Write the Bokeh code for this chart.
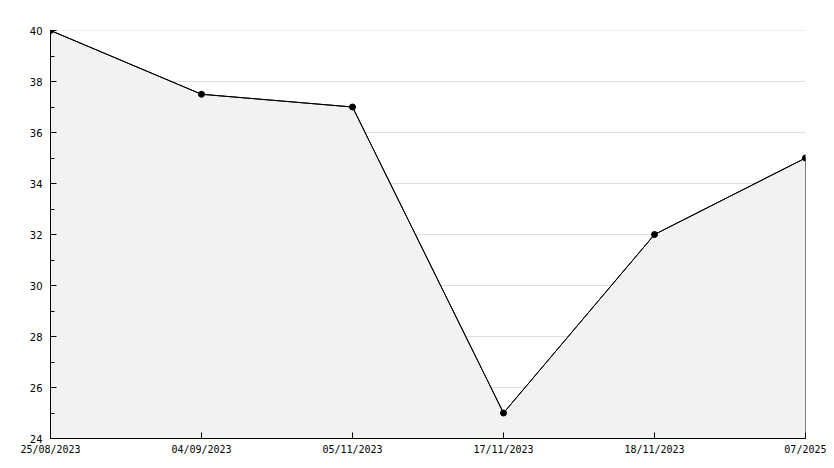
from bokeh.plotting import figure
from bokeh.models import Range1d, FixedTicker, SingleIntervalTicker, Span
from bokeh.embed import file_html
from bokeh.resources import INLINE

dates = ["25/08/2023", "04/09/2023", "05/11/2023", "17/11/2023", "18/11/2023", "07/2025"]
values = [40, 37.5, 37, 25, 32, 35]
y_min, y_max = 24, 40

xs = list(range(len(dates)))

p = figure(width=826, height=460, output_backend="svg", toolbar_location=None,
           x_range=Range1d(0, len(dates) - 1), y_range=Range1d(y_min, y_max),
           min_border_left=50, min_border_right=21, min_border_top=30, min_border_bottom=22)
p.outline_line_color = None
p.background_fill_color = "white"

# top gridline (Bokeh skips grid lines at range bounds)
p.add_layout(Span(location=y_max, dimension="width", line_color="#dddddd", line_width=1,
                  level="underlay"))

# area
p.patch(xs + [xs[-1], xs[0]], values + [y_min, y_min], fill_color="#f2f2f2",
        line_color="black", line_width=1)
p.line(xs, values, line_color="black", line_width=1)
p.scatter(xs, values, size=6, color="black", marker="circle")

# axes
p.xaxis.ticker = FixedTicker(ticks=xs)
p.xaxis.major_label_overrides = {i: d for i, d in enumerate(dates)}
p.xaxis.major_tick_in = 6
p.xaxis.major_tick_out = 0
p.xaxis.minor_tick_line_color = None
p.xaxis.major_label_standoff = 5
p.xaxis.major_label_text_font = "DejaVu Sans Mono"
p.xaxis.major_label_text_font_size = "10px"
p.xaxis.major_label_text_color = "black"
p.xaxis.axis_line_color = "black"

p.yaxis.ticker = SingleIntervalTicker(interval=2, num_minor_ticks=2)
p.yaxis.major_tick_in = 6
p.yaxis.major_tick_out = 0
p.yaxis.minor_tick_in = 4
p.yaxis.minor_tick_out = 0
p.yaxis.major_label_standoff = 8
p.yaxis.major_label_text_font = "DejaVu Sans"
p.yaxis.major_label_text_font_size = "10px"
p.yaxis.major_label_text_color = "black"
p.yaxis.axis_line_color = "black"

p.xgrid.grid_line_color = None
p.ygrid.grid_line_color = "#dddddd"
p.ygrid.ticker = SingleIntervalTicker(interval=2)

open("out.html", "w").write(file_html(p, INLINE))
